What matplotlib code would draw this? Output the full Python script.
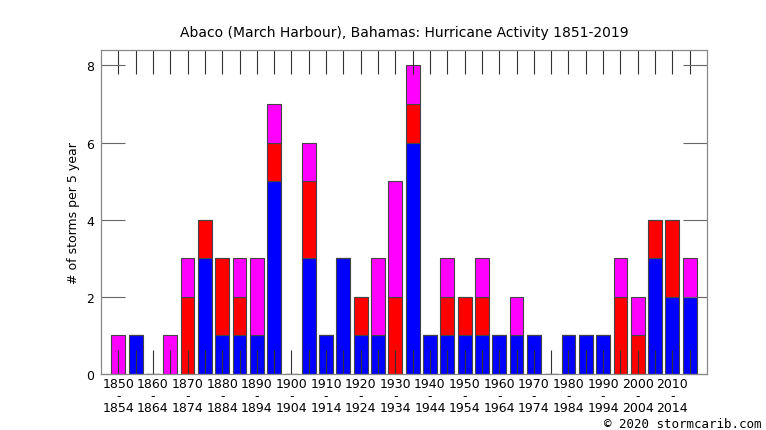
import matplotlib
matplotlib.use("Agg")
import matplotlib.pyplot as plt
import numpy as np

# start year of each 5 year period
years = list(range(1850, 2020, 5))
# storms per period, stacked blue / red / magenta
blue = [0, 1, 0, 0, 0, 3, 1, 1, 1, 5, 0, 3, 1, 3, 1, 1, 0, 6, 1, 1, 1, 1, 1, 1, 1, 0, 1, 1, 1, 0, 0, 3, 2, 2]
red = [0, 0, 0, 0, 2, 1, 2, 1, 0, 1, 0, 2, 0, 0, 1, 0, 2, 1, 0, 1, 1, 1, 0, 0, 0, 0, 0, 0, 0, 2, 1, 1, 2, 0]
magenta = [1, 0, 0, 1, 1, 0, 0, 1, 2, 1, 0, 1, 0, 0, 0, 2, 3, 1, 0, 1, 0, 1, 0, 1, 0, 0, 0, 0, 0, 1, 1, 0, 0, 1]
yticks = [0, 2, 4, 6, 8]

fig = plt.figure(figsize=(7.66, 4.31), dpi=100)
ax = fig.add_axes([101 / 766, 1 - 375 / 431, 606 / 766, 324 / 431])

x = np.arange(len(years))
b = np.array(blue)
r = np.array(red)
m = np.array(magenta)
edge = "#444444"
ax.bar(x, b, width=0.8, color="#0000ff", edgecolor=edge, linewidth=0.8)
ax.bar(x, r, width=0.8, bottom=b, color="#ff0000", edgecolor=edge, linewidth=0.8)
ax.bar(x, m, width=0.8, bottom=b + r, color="#ff00ff", edgecolor=edge, linewidth=0.8)

ax.set_xlim(-1, len(years))
ax.set_ylim(0, 8.4)

labels = []
for i, y in enumerate(years):
   if i % 2 == 0 and i < len(years) - 1:
      labels.append(f"{y}\n-\n{y + 4}")
   else:
      labels.append("")
ax.set_xticks(x)
ax.set_xticklabels(labels, fontsize=9, linespacing=0.92)
ax.set_yticks(yticks)
ax.set_yticklabels([str(v) for v in yticks], fontsize=9)

ax.tick_params(axis="x", direction="in", length=17, width=0.8, color="#333333",
               top=True, bottom=True, pad=2)
ax.tick_params(axis="y", direction="in", length=17, width=0.8, color="#666666",
               left=True, right=True, pad=5)
for s in ax.spines.values():
   s.set_color("#888888")
   s.set_linewidth(0.9)

ax.set_ylabel("# of storms per 5 year", fontsize=9, labelpad=4)
fig.text(404 / 766, 1 - 33 / 431, "Abaco (March Harbour), Bahamas: Hurricane Activity 1851-2019",
         ha="center", va="center", fontsize=10)
fig.text(762 / 766, 1 - 425 / 431, "\u00a9 2020 stormcarib.com", ha="right", va="center",
         fontsize=9, family="DejaVu Sans Mono")

plt.savefig("out.png", dpi=100)
